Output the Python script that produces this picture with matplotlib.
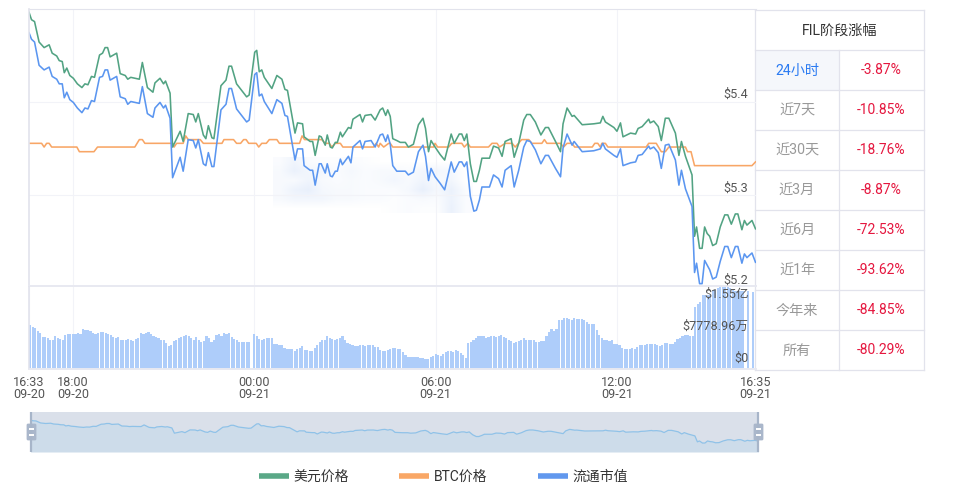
from __future__ import annotations

import matplotlib

matplotlib.use("Agg")
import matplotlib.pyplot as plt
import numpy as np
from matplotlib.colors import LinearSegmentedColormap
from matplotlib.lines import Line2D
from matplotlib.patches import FancyBboxPatch, Rectangle

plt.rcParams["font.family"] = ["Roboto", "Noto Sans CJK SC", "DejaVu Sans"]

W, H = 956, 496

# minutes since 16:33 on 09-20
minutes = [
    0, 5, 11, 20, 30, 40, 46, 55, 60, 66, 70, 75, 81, 88, 96, 105, 111, 117, 124, 130,
    140, 146, 151, 156, 161, 174, 181, 191, 196, 202, 219, 225, 235, 246, 250, 260, 267, 271, 280, 285,
    300, 306, 316, 326, 331, 336, 346, 351, 356, 363, 367, 381, 391, 397, 402, 412, 432, 437, 448, 452,
    457, 462, 467, 482, 492, 502, 508, 513, 528, 533, 543, 546, 558, 563, 568, 576, 580, 588, 592, 598,
    602, 608, 612, 618, 622, 634, 639, 643, 657, 662, 667, 679, 687, 697, 702, 708, 712, 717,
    722, 730, 737, 747, 753, 763, 773, 782, 787, 793, 798, 806, 816, 825, 838, 844, 854, 859, 864, 869,
    876, 883, 888, 894, 899, 914, 922, 932, 939, 945, 957, 963, 972, 982, 988, 995, 1005, 1016, 1025, 1031,
    1045, 1055, 1060, 1068, 1078, 1082, 1098, 1121, 1134, 1139, 1144, 1161, 1167, 1174, 1179, 1194, 1204, 1209, 1217, 1230,
    1233, 1240, 1249, 1255, 1263, 1270, 1283, 1290, 1295, 1303, 1316, 1321, 1325, 1331, 1336, 1341, 1346, 1351, 1357, 1364,
    1372, 1381, 1387, 1394, 1402, 1407, 1415, 1420, 1425, 1435, 1442,
]

usd_price = [
    5.497, 5.489, 5.487, 5.465, 5.459, 5.462, 5.453, 5.450, 5.445, 5.444, 5.432, 5.437, 5.429, 5.426, 5.420, 5.416, 5.420, 5.419, 5.428, 5.427,
    5.451, 5.453, 5.459, 5.459, 5.449, 5.453, 5.431, 5.429, 5.425, 5.427, 5.425, 5.443, 5.416, 5.411, 5.421, 5.426, 5.420, 5.423, 5.410, 5.352,
    5.369, 5.358, 5.388, 5.387, 5.379, 5.388, 5.365, 5.361, 5.375, 5.362, 5.361, 5.418, 5.424, 5.439, 5.439, 5.420, 5.406, 5.408, 5.454, 5.456,
    5.433, 5.435, 5.427, 5.415, 5.429, 5.425, 5.414, 5.413, 5.367, 5.378, 5.377, 5.363, 5.358, 5.358, 5.343, 5.364, 5.363, 5.354, 5.365, 5.352,
    5.351, 5.357, 5.357, 5.368, 5.363, 5.373, 5.372, 5.382, 5.387, 5.379, 5.386, 5.387, 5.381, 5.392, 5.394, 5.386, 5.392, 5.385,
    5.361, 5.359, 5.357, 5.357, 5.352, 5.355, 5.376, 5.383, 5.372, 5.347, 5.359, 5.352, 5.344, 5.338, 5.366, 5.356, 5.366, 5.366, 5.359, 5.366,
    5.334, 5.315, 5.315, 5.327, 5.340, 5.340, 5.353, 5.351, 5.342, 5.358, 5.361, 5.341, 5.356, 5.381, 5.387, 5.387, 5.379, 5.365, 5.373, 5.373,
    5.358, 5.347, 5.377, 5.394, 5.385, 5.386, 5.376, 5.377, 5.378, 5.385, 5.379, 5.373, 5.369, 5.378, 5.363, 5.367, 5.366, 5.372, 5.374, 5.382,
    5.378, 5.380, 5.374, 5.359, 5.383, 5.383, 5.367, 5.343, 5.358, 5.342, 5.322, 5.256, 5.266, 5.243, 5.243, 5.266, 5.259, 5.256, 5.246, 5.248,
    5.266, 5.279, 5.279, 5.269, 5.280, 5.280, 5.263, 5.273, 5.268, 5.273, 5.264,
]

# market cap, drawn on the price scale like the reference does with its own hidden axis
market_cap = [
    5.475, 5.468, 5.465, 5.440, 5.435, 5.438, 5.428, 5.425, 5.420, 5.420, 5.405, 5.411, 5.403, 5.400, 5.394, 5.389, 5.394, 5.393, 5.402, 5.401,
    5.427, 5.428, 5.435, 5.435, 5.424, 5.428, 5.406, 5.404, 5.398, 5.401, 5.399, 5.417, 5.388, 5.384, 5.394, 5.400, 5.394, 5.397, 5.383, 5.319,
    5.341, 5.326, 5.360, 5.359, 5.351, 5.360, 5.334, 5.332, 5.346, 5.331, 5.331, 5.392, 5.398, 5.415, 5.415, 5.393, 5.379, 5.381, 5.430, 5.432,
    5.407, 5.409, 5.401, 5.388, 5.403, 5.399, 5.386, 5.385, 5.338, 5.350, 5.350, 5.332, 5.327, 5.327, 5.311, 5.334, 5.334, 5.324, 5.334, 5.321,
    5.320, 5.326, 5.326, 5.339, 5.333, 5.342, 5.335, 5.352, 5.359, 5.350, 5.358, 5.359, 5.352, 5.365, 5.366, 5.358, 5.365, 5.355,
    5.332, 5.326, 5.326, 5.326, 5.322, 5.325, 5.347, 5.354, 5.342, 5.316, 5.329, 5.320, 5.313, 5.306, 5.336, 5.325, 5.336, 5.336, 5.331, 5.336,
    5.299, 5.283, 5.284, 5.295, 5.309, 5.309, 5.322, 5.318, 5.309, 5.327, 5.332, 5.309, 5.327, 5.352, 5.359, 5.358, 5.349, 5.334, 5.343, 5.343,
    5.329, 5.320, 5.351, 5.366, 5.354, 5.358, 5.347, 5.348, 5.350, 5.356, 5.350, 5.343, 5.341, 5.350, 5.332, 5.335, 5.336, 5.343, 5.344, 5.353,
    5.350, 5.352, 5.346, 5.329, 5.354, 5.355, 5.338, 5.311, 5.327, 5.307, 5.288, 5.217, 5.227, 5.205, 5.205, 5.230, 5.225, 5.220, 5.210, 5.212,
    5.229, 5.245, 5.245, 5.233, 5.245, 5.245, 5.227, 5.237, 5.233, 5.238, 5.228,
]

btc_minutes = [
    0, 25, 30, 35, 40, 45, 95, 100, 129, 136, 210, 219, 225, 230, 285, 288, 293, 306, 311, 316,
    340, 346, 383, 387, 406, 412, 420, 426, 431, 436, 451, 456, 462, 471, 477, 492, 497, 537, 542, 547,
    581, 588, 596, 601, 608, 618, 623, 684, 689, 694, 697, 704, 714, 717, 722, 803, 806, 811, 833, 839,
    859, 864, 871, 876, 912, 919, 929, 934, 945, 959, 965, 978, 992, 998, 1018, 1023, 1028, 1055, 1061, 1068,
    1078, 1083, 1118, 1123, 1129, 1134, 1137, 1144, 1149, 1225, 1230, 1245, 1255, 1263, 1270, 1303, 1307, 1314, 1321, 1435, 1442,
]

btc_price = [
    5.356, 5.356, 5.352, 5.356, 5.356, 5.352, 5.352, 5.347, 5.347, 5.352, 5.352, 5.360, 5.360, 5.356, 5.356, 5.352, 5.356, 5.356, 5.364, 5.360,
    5.360, 5.356, 5.356, 5.360, 5.360, 5.356, 5.356, 5.360, 5.360, 5.356, 5.356, 5.352, 5.356, 5.356, 5.360, 5.360, 5.356, 5.356, 5.364, 5.360,
    5.360, 5.356, 5.356, 5.352, 5.356, 5.356, 5.352, 5.352, 5.356, 5.352, 5.356, 5.352, 5.356, 5.356, 5.352, 5.352, 5.356, 5.352, 5.352, 5.356,
    5.356, 5.352, 5.356, 5.352, 5.352, 5.356, 5.356, 5.352, 5.356, 5.356, 5.352, 5.360, 5.360, 5.356, 5.356, 5.360, 5.356, 5.356, 5.352, 5.356,
    5.356, 5.352, 5.352, 5.356, 5.356, 5.352, 5.356, 5.356, 5.352, 5.352, 5.356, 5.356, 5.347, 5.347, 5.352, 5.352, 5.347, 5.347, 5.332, 5.332, 5.336,
]

# 5 minute volume in units of 10k USD, 0 where the reference has a gap
volume = [
    8375, 7875, 7750, 7250, 6875, 6063, 6063, 5938, 5563, 5438, 6188, 5875, 5688, 5375, 6375, 6563, 6563, 6563, 6688, 6875,
    6688, 7500, 7375, 7438, 7125, 6813, 6625, 6750, 7000, 6938, 6875, 6563, 6500, 6063, 5875, 6000, 5563, 5500, 5563, 5688,
    5563, 5188, 5688, 5813, 6875, 6688, 6750, 6938, 6563, 6250, 6063, 5875, 5375, 5375, 4875, 4375, 4563, 5313, 5563, 5938,
    6125, 6188, 6500, 6313, 5938, 5563, 6000, 5563, 5125, 5313, 6313, 5938, 5125, 5563, 6438, 6688, 6188, 6813, 6563, 6875,
    6000, 5750, 5375, 5063, 5063, 5063, 5063, 5063, 0,
    6688, 6188, 5688, 5563, 5750, 5813, 5813, 5813, 4688, 4688, 4438, 4500, 4000, 3750, 3750, 3750, 3438, 3813, 3938, 4375,
    3563, 3500, 3438, 3438, 3875, 4500, 5063, 5375, 5438, 6188, 5938, 5625, 5438, 5750, 5938, 6188, 5563, 4813, 4688, 4438,
    4250, 4375, 4438, 4438, 4313, 4500, 4500, 4500, 4125, 4063, 3563, 3375, 3438, 3500, 3813, 3875, 3875, 3688,
    3688, 3188, 2688, 2313, 2250, 2250, 2188, 2188, 2063, 2125, 1938, 1813, 2188, 2500, 2813, 2563, 2500, 2875, 3188, 3313,
    3313, 3125, 3500, 3438, 3000, 2625, 2125, 4813, 5125, 5563, 5938, 6250, 6313, 6188, 5938, 6000, 6188, 6188, 6063, 6188,
    6375, 6000, 5813, 5438, 5250, 4813, 5063, 5313, 5438, 5938, 5563, 5375, 5563, 5563, 5000, 5125, 5250, 5250, 6188, 7000,
    7563, 7188, 7500, 9313, 9313, 9688, 9688, 9438, 9313, 9563, 9500, 9438, 9500, 9313, 8875, 8438, 8500, 8500, 7313, 6375,
    5938, 5438, 5438, 5313, 5375, 4625, 4625, 4500, 4000, 3750, 3750, 3750, 3938, 3813, 4188, 4438, 4500, 4563, 4750, 4750,
    4750, 4688, 4500, 4250, 4500, 4938, 4813, 4750, 4750, 5000, 5750, 5938, 6250, 6375, 6375, 6250, 6188,
    11688, 12313, 12563, 13875, 13875, 13875, 13875, 14813, 14938, 15188, 15438, 15563, 15563, 15438, 15313, 14938, 14688,
    14625, 14625, 14625, 0, 14625, 0, 14438,
]

xtick_minutes = [0, 87, 447, 807, 1167, 1442]
xtick_labels = ["16:33\n09-20", "18:00\n09-20", "00:00\n09-21", "06:00\n09-21", "12:00\n09-21", "16:35\n09-21"]

table_title = "FIL阶段涨幅"
periods = ["24小时", "近7天", "近30天", "近3月", "近6月", "近1年", "今年来", "所有"]
changes = ["-3.87%", "-10.85%", "-18.76%", "-8.87%", "-72.53%", "-93.62%", "-84.85%", "-80.29%"]

GREEN = "#52a383"
ORANGE = "#f8a666"
BLUE = "#5b96f0"
BAR = "#aecdfa"
BORDER = "#e2e3ec"
GRID = "#f2f3f8"
TICK = "#555555"


def ax_px(fig, left, top, right, bottom, **kw):
    return fig.add_axes([left / W, 1 - bottom / H, (right - left) / W, (bottom - top) / H], **kw)


def draw_background(fig):
    bg = ax_px(fig, 0, 0, W, H)
    bg.set_axis_off()
    bg.set_zorder(0)

    # blurred watermark behind the lines
    mark = np.array([
        [0.2, 0.6, 0.2, 0.1, 0.1, 0.2, 0.1, 0.0, 0.0, 0.0, 0.0, 0.0, 0.0, 0.0],
        [0.3, 0.8, 0.5, 0.5, 0.2, 0.4, 0.2, 0.3, 0.3, 0.2, 0.5, 0.5, 0.4, 0.0],
        [0.3, 0.3, 0.6, 0.3, 0.2, 0.3, 0.2, 0.3, 0.5, 0.3, 0.6, 0.3, 0.5, 0.0],
        [0.3, 0.7, 0.9, 0.4, 0.3, 0.3, 0.2, 0.2, 0.2, 0.4, 0.9, 0.4, 0.8, 0.2],
        [0.3, 0.5, 0.5, 0.5, 0.3, 0.3, 0.2, 0.2, 0.1, 0.2, 0.3, 0.2, 0.7, 0.2],
        [0.0, 0.0, 0.0, 0.0, 0.0, 0.0, 0.0, 0.0, 0.1, 0.2, 0.1, 0.1, 0.8, 0.2],
    ])
    cmap = LinearSegmentedColormap.from_list("mark", ["#ffffff", "#e6eefb"])
    bg.imshow(mark, extent=(273, 473, 213, 157), cmap=cmap, vmin=0, vmax=1, aspect="auto", interpolation="bilinear")
    bg.set_xlim(0, W)
    bg.set_ylim(H, 0)

    # period table
    bg.add_patch(Rectangle((755, 50), 84.5, 40, fc="#f5f7fb", ec="none"))
    for y in range(10, 371, 40):
        bg.plot([755, 924.5], [y, y], color=BORDER, lw=0.9)
    bg.plot([839.5, 839.5], [50, 370], color=BORDER, lw=0.9)
    bg.plot([924.5, 924.5], [10, 370], color=BORDER, lw=0.9)
    bg.plot([755.5, 755.5], [10, 370], color=BORDER, lw=0.9)

    bg.text(840, 30.5, table_title, ha="center", va="center", fontsize=10.2, color="#333333")
    for i, (period, change) in enumerate(zip(periods, changes)):
        y = 70.5 + 40 * i
        bg.text(797, y, period, ha="center", va="center", fontsize=10.2, color="#2b7bf2" if i == 0 else "#999999")
        bg.text(881.5, y, change, ha="center", va="center", fontsize=10.0, color="#e5173f")


def style_panel(ax):
    ax.patch.set_alpha(0)
    ax.set_zorder(2)
    ax.set_xlim(0, 1442)
    ax.tick_params(length=0)
    ax.grid(True, color=GRID, lw=0.8)
    ax.set_axisbelow(True)
    for side in ("top", "right"):
        ax.spines[side].set_visible(False)
    ax.spines["left"].set_color(BORDER)
    ax.spines["left"].set_linewidth(1.2)
    ax.spines["bottom"].set_color("#e8e9f1")
    ax.spines["bottom"].set_linewidth(1.4)


def main() -> None:
    fig = plt.figure(figsize=(W / 100, H / 100), dpi=100)
    draw_background(fig)

    price_ax = ax_px(fig, 29, 9.5, 755.5, 285.7)
    style_panel(price_ax)
    price_ax.spines["top"].set_visible(True)
    price_ax.spines["top"].set_color(BORDER)
    price_ax.plot(btc_minutes, btc_price, color=ORANGE, lw=1.15)
    price_ax.plot(minutes, usd_price, color=GREEN, lw=1.15)
    price_ax.plot(minutes, market_cap, color=BLUE, lw=1.15)
    price_ax.set_ylim(5.2028, 5.5)
    price_ax.set_xticks(xtick_minutes[1:-1])
    price_ax.set_yticks([5.3, 5.4])
    price_ax.tick_params(labelbottom=False, labelleft=False)
    for value, dy in [(5.4, 8), (5.3, 7), (5.2028, 5.5)]:
        price_ax.annotate(f"${value:.1f}", xy=(1, value), xycoords=price_ax.get_yaxis_transform(),
                          xytext=(-7, dy), textcoords="offset pixels", ha="right", va="center",
                          fontsize=9.1, color=TICK, annotation_clip=False)

    vol_ax = ax_px(fig, 29, 286.5, 755.5, 369)
    style_panel(vol_ax)
    vol_ax.bar(np.arange(len(volume)) * 5, volume, width=4.3, align="edge", color=BAR, lw=0)
    vol_ax.set_ylim(0, 15558)
    vol_ax.set_yticks([])
    vol_ax.set_xticks(xtick_minutes, xtick_labels, fontsize=9.1, color=TICK, linespacing=0.95)
    vol_ax.tick_params(axis="x", pad=5)
    for value, label, dy in [(15558, "$1.55亿", -8), (7778.96, "$7778.96万", 1), (0, "$0", 11)]:
        vol_ax.annotate(label, xy=(1, value), xycoords=vol_ax.get_yaxis_transform(),
                        xytext=(-7, dy), textcoords="offset pixels", ha="right", va="center",
                        fontsize=9.1, color=TICK, annotation_clip=False, zorder=5)

    # range slider under the chart, it shows the whole price line
    slider = ax_px(fig, 30.5, 412, 758.5, 452)
    slider.set_zorder(2)
    slider.set_axis_off()
    slider.set_xlim(0, 1442)
    slider.set_ylim(5.144, 5.586)
    slider.add_patch(Rectangle((0, 0), 1, 1, transform=slider.transAxes, fc="#dae0ea", ec="none"))
    slider.fill_between(minutes, usd_price, 5.144, color="#cddcea", lw=0)
    slider.plot(minutes, usd_price, color="#8fc2e8", lw=0.9)

    overlay = ax_px(fig, 0, 0, W, H)
    overlay.set_zorder(3)
    overlay.set_axis_off()
    overlay.patch.set_alpha(0)
    overlay.set_xlim(0, W)
    overlay.set_ylim(H, 0)
    for x in (31.5, 758.5):
        overlay.plot([x, x], [412, 452], color="#a7b5c9", lw=1.6, solid_capstyle="butt")
        overlay.add_patch(FancyBboxPatch((x - 4.5, 424), 9, 16, boxstyle="round,pad=0.4,rounding_size=1.5",
                                         fc="#aab7cb", ec="none"))
        for y in (429, 435):
            overlay.plot([x - 2.8, x + 2.8], [y, y], color="white", lw=1.4, solid_capstyle="butt")

    handles = [
        Line2D([], [], color="#5aa887", lw=4.0, solid_capstyle="butt"),
        Line2D([], [], color="#f9a766", lw=4.0, solid_capstyle="butt"),
        Line2D([], [], color="#6198ee", lw=4.0, solid_capstyle="butt"),
    ]
    fig.legend(handles, ["美元价格", "BTC价格", "流通市值"], loc="center", bbox_to_anchor=(443.5 / W, 1 - 476.5 / H),
               ncol=3, frameon=False, fontsize=10, handlelength=2.16, handletextpad=0.36, columnspacing=3.6,
               labelcolor="#333333")

    fig.savefig("out.png", dpi=100)
    plt.close(fig)


if __name__ == "__main__":
    main()
